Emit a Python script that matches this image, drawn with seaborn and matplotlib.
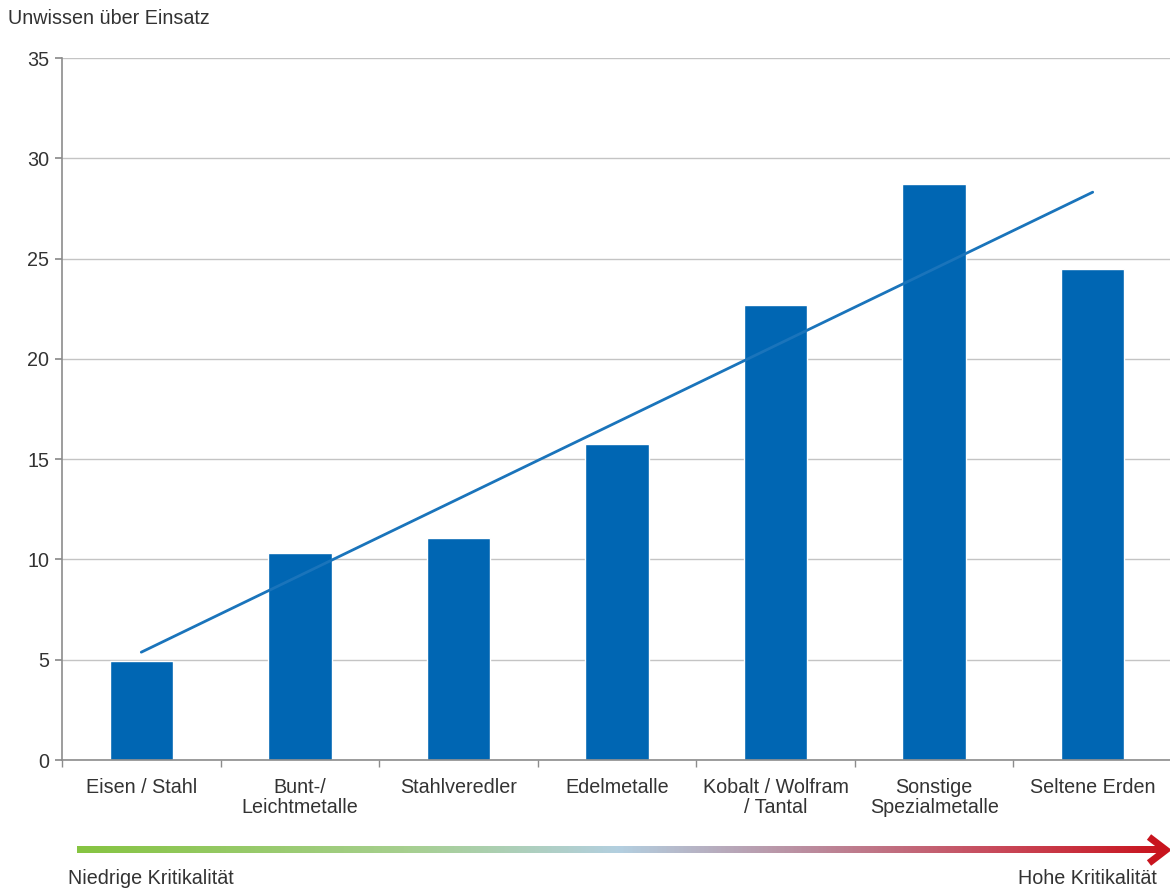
import numpy as np
import pandas as pd
import matplotlib
matplotlib.use("Agg")
import matplotlib.pyplot as plt
import seaborn as sns
from matplotlib.colors import LinearSegmentedColormap

categories = ["Eisen / Stahl", "Bunt-/\nLeichtmetalle", "Stahlveredler", "Edelmetalle",
              "Kobalt / Wolfram\n/ Tantal", "Sonstige\nSpezialmetalle", "Seltene Erden"]
values = [4.93, 10.3, 11.07, 15.75, 22.68, 28.7, 24.47]
yticks = [0, 5, 10, 15, 20, 25, 30, 35]
ylabel = "Unwissen über Einsatz"
low_label = "Niedrige Kritikalität"
high_label = "Hohe Kritikalität"

sns.set_theme(style="white")
plt.rcParams['font.family'] = ['Liberation Sans', 'DejaVu Sans']
TXT = "#333333"
BLUE = "#0066b3"
FS = 14.2

fig = plt.figure(figsize=(11.7, 8.9), dpi=100)
ax = fig.add_axes([62/1170, (890-760)/890, (1172-62)/1170, (760-58)/890])

df = pd.DataFrame({"cat": categories, "val": values})
sns.barplot(data=df, x="cat", y="val", color=BLUE, saturation=1, width=0.4, ax=ax)

# linear trend line
xs = np.arange(len(values))
k, d = np.polyfit(xs, values, 1)
ax.plot([xs[0], xs[-1]], [d, k * xs[-1] + d], color="#1a74bb", lw=2, zorder=3)

ax.set_xlim(-0.5, len(values) - 0.5)
ax.set_ylim(0, 35)
ax.set_yticks(yticks)
ax.yaxis.grid(True, color="#c4c4c4", lw=1)
ax.set_axisbelow(True)
for s in ["top", "right"]:
    ax.spines[s].set_visible(False)
for s in ["left", "bottom"]:
    ax.spines[s].set_color("#8c8c8c")
    ax.spines[s].set_linewidth(1.2)
ax.set_xlabel("")
ax.set_ylabel("")
ax.tick_params(axis="y", left=True, length=5, color="#8c8c8c", labelsize=FS, labelcolor=TXT, pad=4)
ax.tick_params(axis="x", bottom=False, labelsize=FS, labelcolor=TXT, pad=7)
ax.set_xticks(xs, categories, linespacing=1.05)
ax.set_xticks(np.arange(-0.5, len(values)), minor=True)
ax.tick_params(axis="x", which="minor", bottom=True, length=5, color="#8c8c8c")

fig.text(8/1170, 1 - 19/890, ylabel, fontsize=FS, color=TXT, va="center", ha="left")

# gradient arrow
cmap = LinearSegmentedColormap.from_list("krit", [
    (0.0, "#86c441"), (0.3, "#a6cf8e"), (0.5, "#b3cfe0"),
    (0.68, "#bb8a9c"), (0.85, "#c8495a"), (1.0, "#c8141e")])
gax = fig.add_axes([0, 0, 1, 1], zorder=-1)
gax.axis("off")
grad = np.linspace(0, 1, 512).reshape(1, -1)
gax.imshow(grad, cmap=cmap, aspect="auto", extent=[77, 1162, 853.5, 846.5])
gax.plot([1149, 1166, 1149], [837, 850, 863], color="#c8141e", lw=5,
         solid_capstyle="butt", solid_joinstyle="miter")
gax.set_xlim(0, 1170)
gax.set_ylim(890, 0)

fig.text(68/1170, 1 - 878/890, low_label, fontsize=FS, color=TXT, va="center", ha="left")
fig.text(1157/1170, 1 - 878/890, high_label, fontsize=FS, color=TXT, va="center", ha="right")

fig.savefig("out.png", dpi=100, facecolor="white")
